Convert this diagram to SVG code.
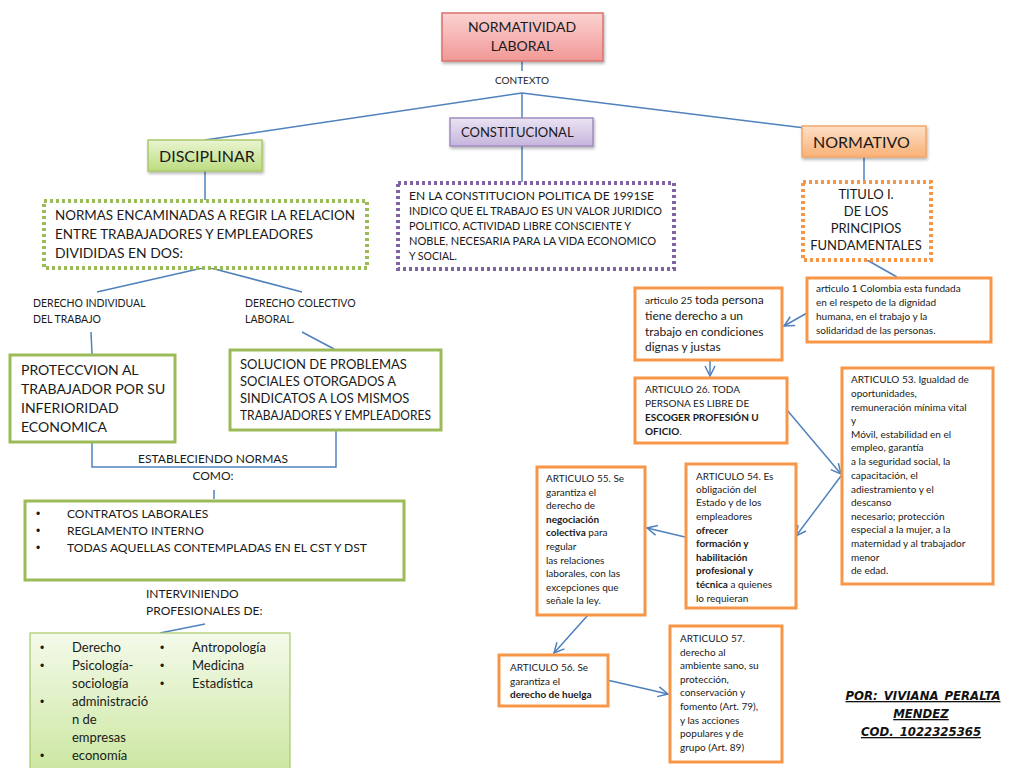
<svg xmlns="http://www.w3.org/2000/svg" width="1024" height="768" viewBox="0 0 1024 768">
<defs>
<linearGradient id="gRed" x1="0" y1="0" x2="0" y2="1"><stop offset="0" stop-color="#fbd3d2"/><stop offset="1" stop-color="#f19896"/></linearGradient>
<linearGradient id="gPur" x1="0" y1="0" x2="0" y2="1"><stop offset="0" stop-color="#ebe3f3"/><stop offset="1" stop-color="#c6b5dd"/></linearGradient>
<linearGradient id="gGrn" x1="0" y1="0" x2="0" y2="1"><stop offset="0" stop-color="#eaf5d2"/><stop offset="1" stop-color="#bcdc80"/></linearGradient>
<linearGradient id="gOra" x1="0" y1="0" x2="0" y2="1"><stop offset="0" stop-color="#fde0c8"/><stop offset="1" stop-color="#f9b176"/></linearGradient>
<linearGradient id="gGrn2" x1="0" y1="0" x2="0" y2="1"><stop offset="0" stop-color="#f4faea"/><stop offset="1" stop-color="#c9e69d"/></linearGradient>
<filter id="sh" x="-10%" y="-10%" width="130%" height="140%"><feDropShadow dx="1" dy="2" stdDeviation="1.5" flood-color="#000" flood-opacity="0.3"/></filter>
<marker id="arr" viewBox="0 0 12 12" refX="11" refY="6" markerWidth="12" markerHeight="12" markerUnits="userSpaceOnUse" orient="auto"><path d="M1,1 L11,6 L1,11" fill="none" stroke="#4f81bd" stroke-width="1.5"/></marker>
</defs>
<style>
text{font-family:Lato,"Open Sans","Liberation Sans",sans-serif;fill:#1a1a1a}
.ln{fill:none;stroke:#4f81bd;stroke-width:1.5}
.ar{fill:none;stroke:#4f81bd;stroke-width:1.5;marker-end:url(#arr)}
.gbox{fill:#fff;stroke:#9bbb59;stroke-width:3}
.obox{fill:#fff;stroke:#f79646;stroke-width:3}
.s10{font-size:10px}
.s11{font-size:10.5px}
.s12{font-size:12px}
.s13{font-size:13px}
.s14{font-size:14px}
.s16{font-size:16px}
.b{font-weight:bold}
.bul{font-family:"Liberation Sans",sans-serif;font-size:12px}
.sig{font-family:"Liberation Sans Narrow","DejaVu Sans Condensed","Liberation Sans",sans-serif;font-weight:bold;font-style:italic;font-size:13px;text-decoration:underline;fill:#111}
</style>
<rect width="1024" height="768" fill="#fff"/>

<g id="connectors">
<line class="ln" x1="522" y1="61" x2="522" y2="71"/>
<line class="ln" x1="522" y1="93" x2="205" y2="140"/>
<line class="ln" x1="522" y1="93" x2="805" y2="128"/>
<line class="ln" x1="522" y1="93" x2="522" y2="118"/>
<line class="ln" x1="522" y1="146" x2="522" y2="182"/>
<line class="ln" x1="205" y1="171" x2="205" y2="200"/>
<line class="ln" x1="864" y1="157" x2="864" y2="181"/>
<line class="ln" x1="207" y1="267" x2="97" y2="292"/>
<line class="ln" x1="207" y1="267" x2="302" y2="292"/>
<line class="ln" x1="91" y1="332" x2="92" y2="354"/>
<line class="ln" x1="302" y1="332" x2="334" y2="349"/>
<polyline class="ln" points="92,442 92,467 336,467 336,430"/>
<line class="ln" x1="214" y1="490" x2="214" y2="499"/>
<line class="ln" x1="205" y1="624" x2="160" y2="633"/>
<line class="ln" x1="867" y1="260" x2="897" y2="277"/>
<line class="ar" x1="807" y1="313" x2="784" y2="326"/>
<line class="ar" x1="710" y1="360" x2="710" y2="376"/>
<line class="ar" x1="787" y1="410" x2="841" y2="474"/>
<line class="ar" x1="841" y1="476" x2="796" y2="536"/>
<line class="ar" x1="685" y1="537" x2="647" y2="528"/>
<line class="ar" x1="588" y1="615" x2="554" y2="653"/>
<line class="ar" x1="607" y1="680" x2="668" y2="694"/>
</g>

<g id="normatividad">
<rect x="442" y="13" width="161" height="48" fill="url(#gRed)" stroke="#d9716f" stroke-width="1.5" filter="url(#sh)"/>
<text class="s14" x="522" y="32" text-anchor="middle">NORMATIVIDAD</text>
<text class="s14" x="522" y="51" text-anchor="middle">LABORAL</text>
</g>
<g id="contexto"><text class="s10" x="522" y="84" text-anchor="middle">CONTEXTO</text></g>

<g id="constitucional">
<rect x="450" y="118" width="143" height="28" fill="url(#gPur)" stroke="#a08cc0" stroke-width="1.5" filter="url(#sh)"/>
<text class="s13" x="461" y="137">CONSTITUCIONAL</text>
</g>

<g id="disciplinar">
<rect x="148" y="140" width="114" height="31" fill="url(#gGrn)" stroke="#a9c96a" stroke-width="1.5" filter="url(#sh)"/>
<text class="s16" x="159" y="162">DISCIPLINAR</text>
</g>

<g id="normativo">
<rect x="802" y="126" width="124" height="31" fill="url(#gOra)" stroke="#f2a66a" stroke-width="1.5" filter="url(#sh)"/>
<text class="s16" x="813" y="148">NORMATIVO</text>
</g>

<g id="normas">
<rect x="44" y="201" width="323" height="67" fill="#fff" stroke="#9bbb59" stroke-width="4" stroke-dasharray="3,3"/>
<text class="s14" x="55" y="220" textLength="300" lengthAdjust="spacingAndGlyphs">NORMAS ENCAMINADAS A REGIR LA RELACION</text>
<text class="s14" x="55" y="239" textLength="258" lengthAdjust="spacingAndGlyphs">ENTRE  TRABAJADORES Y EMPLEADORES</text>
<text class="s14" x="55" y="258" textLength="128" lengthAdjust="spacingAndGlyphs">DIVIDIDAS EN DOS:</text>
</g>

<g id="constitucion-texto">
<rect x="398" y="183" width="276" height="86" fill="#fff" stroke="#8064a2" stroke-width="4" stroke-dasharray="3,3"/>
<text class="s11" x="409" y="200" textLength="245" lengthAdjust="spacingAndGlyphs">EN LA CONSTITUCION POLITICA DE 1991SE</text>
<text class="s11" x="409" y="215" textLength="253" lengthAdjust="spacingAndGlyphs">INDICO QUE EL TRABAJO ES UN VALOR JURIDICO</text>
<text class="s11" x="409" y="230" textLength="222" lengthAdjust="spacingAndGlyphs">POLITICO, ACTIVIDAD LIBRE CONSCIENTE Y</text>
<text class="s11" x="409" y="245" textLength="247" lengthAdjust="spacingAndGlyphs">NOBLE, NECESARIA PARA LA VIDA ECONOMICO</text>
<text class="s11" x="409" y="260">Y SOCIAL.</text>
</g>

<g id="titulo">
<rect x="803" y="182" width="128" height="78" fill="#fff" stroke="#f79646" stroke-width="4" stroke-dasharray="3,3"/>
<text class="s13" x="866" y="199" text-anchor="middle">TITULO I.</text>
<text class="s13" x="866" y="216" text-anchor="middle">DE LOS</text>
<text class="s13" x="866" y="233" text-anchor="middle">PRINCIPIOS</text>
<text class="s13" x="866" y="250" text-anchor="middle">FUNDAMENTALES</text>
</g>

<g id="der-individual">
<text class="s11" x="33" y="307">DERECHO INDIVIDUAL</text>
<text class="s11" x="33" y="323">DEL TRABAJO</text>
</g>
<g id="der-colectivo">
<text class="s11" x="245" y="307">DERECHO COLECTIVO</text>
<text class="s11" x="245" y="323">LABORAL.</text>
</g>

<g id="proteccion">
<rect class="gbox" x="10" y="355" width="165" height="87"/>
<text class="s14" x="21" y="375">PROTECCVION AL</text>
<text class="s14" x="21" y="394">TRABAJADOR POR SU</text>
<text class="s14" x="21" y="413">INFERIORIDAD</text>
<text class="s14" x="21" y="432">ECONOMICA</text>
</g>

<g id="solucion">
<rect class="gbox" x="230" y="350" width="211" height="80"/>
<text class="s13" x="240" y="369">SOLUCION DE PROBLEMAS</text>
<text class="s13" x="240" y="386">SOCIALES OTORGADOS A</text>
<text class="s13" x="240" y="403">SINDICATOS A LOS MISMOS</text>
<text class="s13" x="240" y="420" textLength="191" lengthAdjust="spacingAndGlyphs">TRABAJADORES Y EMPLEADORES</text>
</g>

<g id="estableciendo">
<text class="s12" x="213" y="463" text-anchor="middle">ESTABLECIENDO NORMAS</text>
<text class="s12" x="213" y="480" text-anchor="middle">COMO:</text>
</g>

<g id="contratos">
<rect class="gbox" x="25" y="501" width="379" height="79"/>
<text class="bul" x="36" y="518">•</text><text class="s12" x="67" y="518">CONTRATOS LABORALES</text>
<text class="bul" x="36" y="535">•</text><text class="s12" x="67" y="535">REGLAMENTO INTERNO</text>
<text class="bul" x="36" y="552">•</text><text class="s12" x="67" y="552" textLength="300" lengthAdjust="spacingAndGlyphs">TODAS AQUELLAS CONTEMPLADAS EN EL CST Y DST</text>
</g>

<g id="interviniendo">
<text class="s12" x="146" y="598">INTERVINIENDO</text>
<text class="s12" x="146" y="615">PROFESIONALES DE:</text>
</g>

<g id="profesiones">
<rect x="30" y="633" width="260" height="145" fill="url(#gGrn2)" stroke="#a9c96a" stroke-width="1.2"/>
<text class="bul" x="40" y="652">•</text><text class="s13" x="72" y="652">Derecho</text>
<text class="bul" x="40" y="670">•</text><text class="s13" x="72" y="670">Psicología-</text>
<text class="s13" x="72" y="688">sociología</text>
<text class="bul" x="40" y="706">•</text><text class="s13" x="72" y="706">administració</text>
<text class="s13" x="72" y="724">n de</text>
<text class="s13" x="72" y="742">empresas</text>
<text class="bul" x="40" y="760">•</text><text class="s13" x="72" y="760">economía</text>
<text class="bul" x="160" y="652">•</text><text class="s13" x="192" y="652">Antropología</text>
<text class="bul" x="160" y="670">•</text><text class="s13" x="192" y="670">Medicina</text>
<text class="bul" x="160" y="688">•</text><text class="s13" x="192" y="688">Estadística</text>
</g>

<g id="articulo1">
<rect class="obox" x="807" y="278" width="184" height="64"/>
<text class="s10" x="816" y="292">articulo 1 Colombia esta fundada</text>
<text class="s10" x="816" y="306">en el respeto  de la dignidad</text>
<text class="s10" x="816" y="320">humana, en el trabajo y la</text>
<text class="s10" x="816" y="334">solidaridad de las personas.</text>
</g>

<g id="articulo25">
<rect class="obox" x="635" y="288" width="147" height="72"/>
<text x="645" y="304"><tspan class="s10">articulo 25 </tspan><tspan class="s12">toda persona</tspan></text>
<text class="s12" x="645" y="320">tiene derecho a un</text>
<text class="s12" x="645" y="336">trabajo en condiciones</text>
<text class="s12" x="645" y="351">dignas y justas</text>
</g>

<g id="articulo26">
<rect class="obox" x="635" y="378" width="152" height="65"/>
<text class="s10" x="645" y="393">ARTICULO 26. TODA</text>
<text class="s10" x="645" y="407">PERSONA ES LIBRE DE</text>
<text class="s10 b" x="645" y="421">ESCOGER PROFESIÓN U</text>
<text class="s10" x="645" y="435"><tspan class="b">OFICIO</tspan>.</text>
</g>

<g id="articulo53">
<rect class="obox" x="842" y="368" width="151" height="216"/>
<text class="s10" x="851" y="383">ARTICULO 53. Igualdad de</text>
<text class="s10" x="851" y="397">oportunidades,</text>
<text class="s10" x="851" y="411">remuneración mínima vital</text>
<text class="s10" x="851" y="424">y</text>
<text class="s10" x="851" y="438">Móvil, estabilidad en el</text>
<text class="s10" x="851" y="451">empleo, garantía</text>
<text class="s10" x="851" y="465">a la seguridad social, la</text>
<text class="s10" x="851" y="479">capacitación, el</text>
<text class="s10" x="851" y="493">adiestramiento y el</text>
<text class="s10" x="851" y="506">descanso</text>
<text class="s10" x="851" y="520">necesario; protección</text>
<text class="s10" x="851" y="533">especial a la mujer, a la</text>
<text class="s10" x="851" y="547">maternidad y al trabajador</text>
<text class="s10" x="851" y="561">menor</text>
<text class="s10" x="851" y="574">de edad.</text>
</g>

<g id="articulo54">
<rect class="obox" x="686" y="464" width="110" height="144"/>
<text class="s10" x="696" y="480">ARTICULO 54. Es</text>
<text class="s10" x="696" y="493">obligación del</text>
<text class="s10" x="696" y="506">Estado y de los</text>
<text class="s10" x="696" y="520">empleadores</text>
<text class="s10 b" x="696" y="534">ofrecer</text>
<text class="s10 b" x="696" y="547">formación y</text>
<text class="s10 b" x="696" y="561">habilitación</text>
<text class="s10 b" x="696" y="574">profesional y</text>
<text class="s10" x="696" y="588"><tspan class="b">técnica</tspan> a quienes</text>
<text class="s10" x="696" y="602">lo requieran</text>
</g>

<g id="articulo55">
<rect class="obox" x="537" y="467" width="108" height="148"/>
<text class="s10" x="546" y="482">ARTICULO 55. Se</text>
<text class="s10" x="546" y="496">garantiza el</text>
<text class="s10" x="546" y="509">derecho de</text>
<text class="s10 b" x="546" y="523">negociación</text>
<text class="s10" x="546" y="536"><tspan class="b">colectiva</tspan> para</text>
<text class="s10" x="546" y="550">regular</text>
<text class="s10" x="546" y="564">las relaciones</text>
<text class="s10" x="546" y="577">laborales, con las</text>
<text class="s10" x="546" y="591">excepciones que</text>
<text class="s10" x="546" y="604">señale la ley.</text>
</g>

<g id="articulo56">
<rect class="obox" x="499" y="655" width="109" height="51"/>
<text class="s10" x="510" y="671">ARTICULO 56. Se</text>
<text class="s10" x="510" y="685">garantiza el</text>
<text class="s10 b" x="510" y="698">derecho de huelga</text>
</g>

<g id="articulo57">
<rect class="obox" x="670" y="626" width="112" height="136"/>
<text class="s10" x="680" y="642">ARTICULO 57.</text>
<text class="s10" x="680" y="656">derecho al</text>
<text class="s10" x="680" y="669">ambiente sano, su</text>
<text class="s10" x="680" y="683">protección,</text>
<text class="s10" x="680" y="696">conservación y</text>
<text class="s10" x="680" y="710">fomento (Art. 79),</text>
<text class="s10" x="680" y="724">y las acciones</text>
<text class="s10" x="680" y="737">populares y de</text>
<text class="s10" x="680" y="751">grupo (Art. 89)</text>
</g>

<g id="autor">
<text class="sig" x="923" y="700" text-anchor="middle" word-spacing="2">POR: VIVIANA PERALTA</text>
<text class="sig" x="921" y="718" text-anchor="middle">MENDEZ</text>
<text class="sig" x="921" y="736" text-anchor="middle" word-spacing="2">COD. 1022325365</text>
</g>
</svg>
